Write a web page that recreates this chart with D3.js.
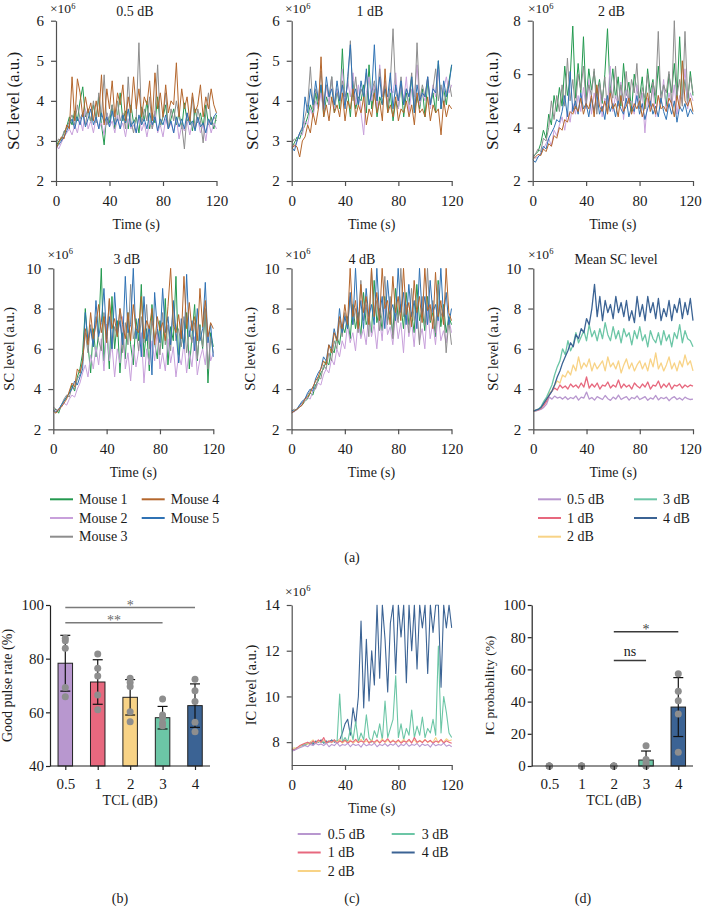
<!DOCTYPE html>
<html><head><meta charset="utf-8">
<script src="https://cdn.jsdelivr.net/npm/d3@7"></script>
<style>body{margin:0;background:#fff}svg{display:block}</style>
</head><body><svg id="c" width="703" height="907"></svg>
<script>
const FONT = '"Liberation Serif","DejaVu Serif",serif';

// ---------- categories / labels ----------
const timeSec = [0,2,4,6,8,10,12,14,16,18,20,22,24,26,28,30,32,34,36,38,40,42,44,46,48,50,52,54,56,58,60,62,64,66,68,70,72,74,76,78,80,82,84,86,88,90,92,94,96,98,100,102,104,106,108,110,112,114,116,118,120];
const timeTicks = [0,40,80,120];
const mouseNames = ["Mouse 1","Mouse 2","Mouse 3","Mouse 4","Mouse 5"];
const mouseColors = ["#23994f","#c8a0db","#8d8d8d","#b4662c","#2f72b4"];
const dbNames = ["0.5 dB","1 dB","2 dB","3 dB","4 dB"];
const dbColors = ["#b897cf","#e7687e","#f8d386","#6cc6a6","#3b6394"];
const tclLabels = ["0.5","1","2","3","4"];

// ---------- SC level, 0.5 dB (x10^6) ----------
const sc05_m1 = [2.85,3.00,3.05,3.20,3.35,3.60,3.40,3.75,3.50,4.00,
 4.35,3.60,3.80,3.45,3.90,3.55,4.10,3.40,2.90,3.70,
 3.45,3.90,3.30,3.60,4.20,3.50,3.75,3.30,3.90,3.45,
 3.60,3.20,3.85,3.50,4.00,3.30,3.70,3.45,4.10,3.35,
 3.60,3.90,3.30,3.55,3.80,3.40,3.70,3.30,3.95,3.50,
 3.60,3.25,3.80,3.45,3.70,3.35,3.90,3.40,3.60,3.30,
 3.65];
const sc05_m2 = [2.90,2.80,2.95,3.10,3.20,3.30,3.15,3.40,3.20,3.55,
 3.25,3.80,3.30,3.50,3.20,3.60,3.30,3.45,3.15,3.70,
 3.35,3.50,3.20,3.65,3.30,3.45,3.10,3.55,3.30,3.40,
 3.20,3.60,3.25,3.45,3.10,3.50,3.30,3.75,3.20,3.40,
 3.10,3.55,3.30,3.45,3.20,3.60,3.05,3.40,3.25,3.50,
 3.15,3.45,3.30,3.55,3.20,3.40,3.00,3.50,3.20,3.45,
 3.30];
const sc05_m3 = [2.95,3.05,3.00,3.25,3.30,3.50,3.65,3.40,3.90,3.55,
 3.70,3.40,3.80,3.50,4.00,3.45,4.20,3.60,4.65,3.40,
 3.60,3.90,3.40,4.00,3.50,3.70,3.30,4.60,3.50,3.20,
 3.60,5.45,3.40,3.80,3.50,4.10,3.30,3.70,4.90,3.40,
 3.60,4.20,3.30,3.80,3.50,4.00,3.60,3.40,2.80,3.70,
 3.40,4.10,3.30,3.80,3.50,2.95,3.70,4.20,3.40,3.60,
 3.50];
const sc05_m4 = [2.80,2.95,3.10,3.05,3.40,3.30,4.60,3.50,4.55,4.20,
 3.60,4.10,3.70,3.95,3.50,4.00,3.60,4.65,3.40,4.30,
 3.80,4.50,3.60,4.20,3.90,4.40,3.50,4.10,3.70,4.60,
 3.80,4.30,3.60,4.10,3.90,4.50,3.50,4.70,3.80,4.20,
 3.60,4.40,3.70,4.00,3.90,4.95,3.60,4.30,3.80,4.10,
 3.50,4.20,3.70,3.90,4.40,3.60,4.10,3.80,4.30,3.90,
 3.70];
const sc05_m5 = [2.85,2.90,3.00,3.10,3.25,3.40,3.55,3.30,3.60,3.40,
 3.70,3.35,3.55,3.80,3.40,3.60,3.30,3.70,3.45,3.60,
 3.35,3.75,3.40,3.55,3.30,3.65,3.45,3.80,3.35,3.50,
 3.20,3.65,3.40,3.55,3.30,3.70,3.40,3.60,3.25,3.55,
 3.40,3.65,3.30,3.50,3.20,3.60,3.35,3.55,3.30,3.70,
 3.40,3.50,3.25,3.60,3.35,3.45,3.20,3.55,3.40,3.60,
 3.70];

// ---------- SC level, 1 dB ----------
const sc1_m1 = [2.85,2.95,3.10,3.05,3.25,3.40,3.60,3.90,3.70,4.20,
 3.80,4.40,3.60,4.10,3.90,4.60,3.70,4.30,3.80,5.30,
 3.90,4.20,3.60,4.50,3.80,4.10,4.00,4.40,3.70,4.90,
 3.80,4.30,3.60,4.10,3.90,4.50,3.70,4.20,3.50,4.00,
 3.80,4.40,3.60,4.20,3.90,4.60,3.70,4.10,3.80,4.30,
 3.60,4.50,3.90,4.20,3.70,5.00,3.80,4.30,3.90,4.50,
 4.90];
const sc1_m2 = [2.90,2.85,3.00,3.20,3.15,3.50,3.40,3.80,3.60,4.00,
 3.80,4.20,3.70,4.40,3.90,4.60,3.80,4.30,4.00,4.80,
 3.90,4.50,4.10,4.70,3.90,4.40,3.70,3.15,4.20,4.60,
 4.00,4.40,3.80,4.90,4.10,4.50,3.90,4.30,4.20,4.70,
 3.80,4.40,4.00,4.60,3.70,4.30,4.10,4.90,3.90,4.20,
 4.00,4.60,3.80,4.40,4.10,4.80,3.90,4.30,4.60,4.20,
 4.40];
const sc1_m3 = [2.95,3.05,3.00,3.20,3.35,3.60,3.90,4.85,3.80,4.30,
 4.00,4.75,3.90,4.40,4.10,4.60,3.90,4.20,4.00,4.50,
 4.10,4.40,5.50,4.00,4.60,3.90,4.30,4.10,4.70,3.90,
 4.20,4.50,4.00,4.80,4.10,4.30,3.80,4.50,5.80,4.20,
 4.00,4.60,3.90,4.30,4.10,4.70,3.80,5.45,4.00,4.40,
 4.10,4.60,3.90,4.30,4.80,4.00,4.40,3.90,4.20,4.50,
 4.10];
const sc1_m4 = [2.80,2.90,2.85,2.60,3.00,3.10,3.40,3.20,3.70,3.40,
 3.80,5.10,3.60,3.90,3.50,4.10,3.70,3.90,3.60,4.20,
 3.50,4.00,3.80,4.30,3.60,3.90,3.70,4.10,3.40,3.80,
 3.60,4.20,3.70,4.00,3.50,4.80,3.70,3.90,3.60,4.10,
 3.50,3.80,3.70,4.00,3.60,3.90,3.40,4.20,3.70,3.80,
 3.60,4.10,3.50,3.90,3.70,3.80,3.15,4.00,3.60,3.90,
 3.80];
const sc1_m5 = [2.85,2.75,3.00,3.20,3.30,4.10,3.70,4.30,3.90,4.50,
 4.00,4.40,3.80,4.60,4.10,4.30,3.90,4.50,4.00,4.40,
 3.80,4.60,5.40,4.10,4.30,3.90,4.50,4.10,4.80,3.90,
 4.20,5.40,4.00,4.60,3.90,4.30,4.10,4.70,3.80,4.40,
 4.00,4.50,3.90,4.30,4.10,4.60,3.70,4.40,4.00,4.20,
 4.10,4.60,3.90,4.30,4.20,5.00,3.80,4.50,4.10,4.40,
 4.90];

// ---------- SC level, 2 dB ----------
const sc2_m1 = [2.85,3.00,3.10,3.40,3.90,3.60,4.50,4.10,5.20,4.60,
 5.50,4.80,6.30,5.20,5.80,7.80,5.10,6.40,5.30,7.40,
 5.00,6.20,5.40,6.10,5.20,5.80,4.90,6.00,7.70,5.30,
 6.20,5.10,5.90,4.80,6.40,5.20,5.70,4.60,6.00,5.40,
 5.10,5.90,4.70,6.20,5.30,5.80,4.90,6.30,5.20,5.60,
 4.80,6.00,5.30,6.40,5.10,7.40,5.20,5.80,4.90,6.10,
 5.20];
const sc2_m2 = [3.00,2.85,2.90,3.05,3.20,3.40,3.60,3.30,3.90,3.70,
 4.10,4.40,3.90,4.60,4.20,4.90,4.50,5.20,4.60,5.50,
 4.70,5.80,4.50,5.30,4.80,5.60,4.40,5.10,4.90,6.30,
 4.60,5.20,4.80,5.70,4.30,5.40,4.90,5.00,4.50,5.60,
 4.80,5.30,3.80,5.10,4.70,5.50,4.40,5.20,4.90,5.80,
 4.60,5.30,4.80,5.60,4.50,5.20,4.90,6.20,4.70,5.30,
 5.00];
const sc2_m3 = [2.90,3.00,3.20,3.10,3.60,3.50,4.00,5.00,4.30,5.20,
 4.60,5.60,4.80,6.60,5.00,5.80,4.70,6.00,5.40,6.30,
 4.90,5.60,5.20,6.20,4.50,5.70,5.00,5.90,4.60,5.50,
 5.10,6.30,4.80,5.60,5.00,6.10,4.90,5.80,5.30,6.40,
 4.70,5.50,5.10,6.00,4.80,5.70,5.20,7.60,4.90,5.60,
 5.30,6.10,4.90,8.00,5.20,5.80,4.80,7.60,5.10,5.90,
 5.30];
const sc2_m4 = [2.80,2.90,3.00,2.95,3.20,3.10,3.40,3.30,3.70,3.60,
 4.00,3.90,4.30,4.20,4.60,4.50,4.80,4.60,5.10,4.50,
 4.90,4.70,5.20,4.40,5.60,4.80,4.60,5.00,4.50,5.30,
 4.70,4.90,4.40,5.20,4.60,4.80,5.10,4.50,4.90,4.70,
 5.00,4.40,4.80,5.30,4.60,4.90,4.50,5.20,4.70,4.80,
 4.60,5.10,4.90,4.40,5.20,4.70,6.50,5.00,4.80,5.10,
 4.60];
const sc2_m5 = [2.80,2.70,2.90,3.00,3.30,3.20,3.60,3.80,4.00,4.30,
 4.20,4.60,5.20,4.40,6.10,4.60,5.00,4.50,5.30,4.70,
 4.90,4.40,5.10,4.60,5.30,4.50,4.80,4.30,5.20,4.60,
 4.90,4.40,5.00,4.70,4.50,5.10,4.40,4.80,4.60,5.20,
 4.50,4.90,4.30,4.70,5.00,4.50,4.80,4.40,5.10,4.60,
 4.30,4.90,4.50,5.00,4.20,4.80,4.60,4.90,4.40,4.70,
 4.50];

// ---------- SC level, 3 dB ----------
const sc3_m1 = [2.90,3.00,2.80,3.20,3.40,3.60,3.80,4.20,3.90,4.60,
 5.00,5.80,8.00,6.20,4.80,7.00,5.60,6.80,10.00,5.40,
 7.20,5.00,8.60,6.00,7.40,4.80,6.80,5.50,7.80,6.20,
 5.20,7.50,6.40,9.20,5.60,7.00,4.90,8.20,6.30,5.50,
 7.40,6.00,8.50,5.20,7.10,6.40,9.60,5.30,6.90,6.10,
 7.80,5.00,6.60,8.20,5.40,7.20,6.00,7.90,4.30,6.80,
 6.10];
const sc3_m2 = [3.00,2.90,3.00,3.10,3.30,3.20,3.50,3.70,3.60,4.00,
 4.30,4.80,5.20,4.60,5.70,5.00,6.10,5.20,6.50,4.90,
 7.20,5.40,6.20,4.60,6.00,5.30,7.60,5.00,5.80,4.40,
 6.20,5.10,5.90,6.80,4.30,6.00,5.20,6.40,5.40,7.00,
 5.00,5.80,4.90,6.50,5.30,6.10,4.60,5.70,5.20,6.30,
 4.80,5.90,5.10,6.60,4.70,5.50,6.00,5.20,6.80,5.40,
 5.80];
const sc3_m3 = [3.10,3.00,2.90,3.20,3.50,3.70,3.60,4.10,4.00,4.50,
 4.70,5.40,6.80,5.80,7.20,6.10,7.60,6.40,5.90,7.80,
 6.50,8.40,6.00,7.10,6.60,8.00,5.80,7.30,6.20,9.20,
 6.50,7.00,5.90,7.60,6.30,8.20,6.00,7.40,6.50,6.90,
 5.70,7.80,6.20,7.20,5.90,8.30,6.40,7.00,6.10,7.60,
 5.80,6.90,6.30,7.30,5.50,7.10,6.10,8.00,5.00,6.60,
 5.80];
const sc3_m4 = [2.90,2.80,3.00,3.10,3.30,3.50,3.90,4.30,4.10,5.00,
 4.80,5.40,7.00,6.20,7.80,6.50,7.20,8.20,6.80,7.60,
 6.30,8.50,7.00,7.50,6.60,8.00,7.20,6.50,7.80,6.40,
 8.20,7.00,6.80,8.60,6.50,7.40,7.00,8.00,6.20,7.60,
 6.90,7.30,6.40,8.10,10.00,7.20,6.80,7.70,6.50,9.60,
 7.00,8.30,6.90,7.60,6.40,9.00,7.10,8.40,6.60,7.30,
 7.00];
const sc3_m5 = [2.95,2.85,3.00,3.20,3.40,3.60,3.80,4.00,4.40,4.20,
 4.60,5.00,7.80,6.40,7.00,6.10,8.40,6.60,7.30,9.00,
 6.50,7.60,6.00,8.80,6.70,7.40,6.20,9.60,6.80,7.20,
 10.00,6.50,7.50,5.60,8.60,6.40,7.10,4.70,8.80,7.00,
 6.30,9.00,6.80,7.60,6.20,8.40,6.90,5.30,7.50,6.00,
 9.70,6.60,7.40,5.90,8.00,6.40,7.00,9.30,6.30,7.20,
 5.60];

// ---------- SC level, 4 dB ----------
const sc4_m1 = [2.85,2.90,3.00,3.10,3.20,3.40,3.50,3.80,3.70,4.20,
 4.40,4.80,5.00,5.40,5.20,6.00,5.80,6.60,6.20,7.20,
 6.80,7.60,6.50,8.20,7.00,7.80,6.60,8.80,7.20,7.60,
 6.80,9.40,7.30,8.00,6.90,8.60,7.40,7.90,6.70,9.00,
 7.50,8.20,7.00,8.80,7.20,7.80,6.80,9.20,7.40,8.00,
 6.90,8.60,7.30,7.80,6.60,9.40,7.10,8.20,6.80,7.60,
 7.20];
const sc4_m2 = [2.90,2.85,3.00,3.10,3.30,3.40,3.60,3.50,3.90,4.00,
 4.30,4.20,4.70,5.00,4.80,5.50,5.20,6.00,5.60,6.40,
 6.00,7.20,6.30,6.80,5.90,7.40,6.50,7.00,6.20,7.80,
 6.60,7.20,6.00,7.60,6.40,8.40,6.70,7.10,6.20,7.70,
 6.50,7.30,5.80,8.00,6.60,7.40,6.10,7.90,6.40,7.00,
 6.00,8.20,6.50,7.30,6.20,7.80,6.40,6.90,6.30,7.50,
 6.80];
const sc4_m3 = [2.90,3.00,2.95,3.20,3.30,3.50,3.70,3.90,4.10,4.00,
 4.60,4.50,5.20,5.00,5.80,5.40,6.40,6.00,7.40,6.60,
 7.80,7.00,8.60,7.20,8.00,6.80,9.40,7.40,8.20,6.60,
 10.00,7.50,8.40,6.90,7.80,9.60,7.20,8.60,6.50,8.00,
 7.30,10.00,7.60,8.20,6.80,9.00,7.40,7.90,6.20,8.60,
 7.20,10.00,7.40,8.40,6.80,9.20,7.60,8.00,5.80,7.40,
 6.20];
const sc4_m4 = [2.80,2.90,3.00,3.10,3.20,3.50,3.60,3.80,4.10,4.40,
 4.60,5.00,5.40,5.20,6.20,5.80,6.80,6.40,7.60,7.00,
 8.20,7.20,10.00,7.60,8.40,7.00,9.20,7.80,8.60,7.20,
 10.00,7.60,8.80,7.40,10.00,8.00,8.40,7.20,9.60,7.80,
 8.60,7.40,10.00,7.70,8.30,7.10,9.40,7.80,8.60,7.30,
 10.00,7.90,8.20,7.00,9.80,7.60,8.40,7.20,10.00,7.80,
 7.40];
const sc4_m5 = [2.95,2.90,3.00,3.20,3.40,3.50,3.80,4.00,3.90,4.50,
 4.80,5.00,5.60,5.40,6.20,6.00,7.00,6.40,8.00,6.80,
 7.60,7.00,8.80,7.20,10.00,7.40,8.40,7.00,9.00,7.60,
 8.20,7.20,10.00,7.60,8.60,7.00,9.40,7.80,8.20,7.40,
 10.00,7.80,8.80,7.20,9.20,7.60,8.40,7.00,10.00,7.70,
 8.60,7.20,9.40,7.80,8.20,7.40,10.00,7.60,8.80,7.20,
 8.00];

// ---------- Mean SC level ----------
const mean_05 = [2.90,2.92,2.95,3.00,3.10,3.25,3.60,3.50,3.65,3.55,
 3.60,3.50,3.62,3.48,3.58,3.52,3.66,3.45,3.60,3.55,
 3.85,3.50,3.58,3.45,3.62,3.55,3.48,3.68,3.52,3.44,
 3.60,3.50,3.70,3.48,3.56,3.62,3.45,3.58,3.52,3.66,
 3.48,3.55,3.62,3.44,3.56,3.50,3.68,3.46,3.58,3.52,
 3.60,3.42,3.55,3.62,3.48,3.56,3.45,3.60,3.52,3.48,
 3.50];
const mean_1 = [2.90,2.93,2.98,3.05,3.20,3.40,3.70,3.90,4.05,3.95,
 4.20,4.05,4.15,4.00,4.25,4.10,4.20,4.05,4.30,4.10,
 4.60,4.05,4.25,4.10,4.30,4.00,4.20,4.15,4.35,4.05,
 4.20,4.10,4.45,4.05,4.25,4.10,4.20,4.00,4.30,4.15,
 4.05,4.25,4.10,4.35,4.00,4.20,4.15,4.40,4.05,4.25,
 4.10,4.30,4.00,4.20,4.15,4.25,4.05,4.20,4.10,4.20,
 4.15];
const mean_2 = [2.90,2.95,3.00,3.10,3.30,3.50,3.80,3.90,4.20,4.40,
 4.30,4.70,4.60,4.90,4.70,5.20,4.90,5.60,5.00,5.30,
 5.10,5.50,4.90,5.30,5.00,5.20,5.40,4.90,5.60,5.10,
 5.30,5.00,5.40,4.80,5.20,5.50,5.00,5.30,4.90,5.20,
 5.40,5.00,5.30,4.90,5.50,5.10,5.80,5.00,5.30,4.90,
 5.20,5.60,5.00,5.30,4.90,5.40,5.10,5.70,5.20,5.40,
 4.90];
const mean_3 = [2.90,2.95,3.00,3.15,3.40,3.60,3.90,4.20,4.70,5.10,
 5.40,6.00,5.70,6.40,5.90,6.20,6.80,6.30,6.60,6.90,
 6.40,7.20,6.60,6.90,6.40,7.00,6.50,7.30,6.70,6.40,
 7.10,6.50,6.90,6.30,7.00,6.60,6.80,6.20,6.90,6.50,
 7.10,6.40,6.70,6.10,6.90,6.50,6.30,6.80,6.20,6.90,
 6.40,6.70,6.10,6.80,6.50,7.20,6.30,6.90,6.50,6.40,
 6.10];
const mean_4 = [2.90,2.95,3.00,3.10,3.30,3.50,3.70,3.90,4.20,4.60,
 4.90,5.30,5.60,5.90,6.30,6.10,6.70,6.50,7.00,6.80,
 7.50,7.20,8.00,9.20,7.60,8.60,7.40,8.40,7.80,8.20,
 7.50,8.60,7.80,8.30,7.60,8.40,7.40,7.90,7.30,8.60,
 7.60,8.20,7.40,8.60,7.80,8.30,7.50,8.50,7.40,8.00,
 7.60,8.40,7.40,8.20,7.80,8.50,7.50,8.30,7.70,8.50,
 7.40];

// ---------- IC level ----------
const ic_05 = [7.60,7.65,7.70,7.75,7.80,7.85,7.80,7.90,7.85,7.95,
 7.88,7.92,7.85,7.95,7.80,7.90,7.85,7.98,7.82,7.90,
 7.86,7.95,7.80,7.92,7.85,7.90,7.78,7.95,7.84,7.90,
 7.86,7.96,7.80,7.90,7.85,7.94,7.82,7.92,7.86,7.95,
 7.80,7.90,7.85,7.96,7.82,7.90,7.86,7.94,7.80,7.92,
 7.85,7.90,7.78,7.95,7.84,7.90,7.86,7.96,7.82,7.88,
 7.80];
const ic_1 = [7.70,7.65,7.75,7.85,7.90,7.95,8.00,7.90,8.05,7.95,
 8.10,8.00,8.20,7.95,8.05,8.00,8.10,7.95,8.05,8.00,
 8.10,7.95,8.05,8.00,8.12,7.98,8.05,8.00,8.15,7.95,
 8.05,8.00,8.10,7.96,8.08,8.02,8.15,7.98,8.06,8.00,
 8.10,7.95,8.05,8.00,8.12,7.96,8.20,8.00,8.06,7.98,
 8.10,8.00,8.08,7.95,8.05,8.00,8.12,7.96,8.06,8.00,
 7.95];
const ic_2 = [7.70,7.75,7.72,7.80,7.90,7.95,7.90,8.00,8.10,7.95,
 8.05,8.00,8.10,7.95,8.05,7.98,8.08,8.00,8.12,7.96,
 8.05,8.00,8.10,7.95,8.06,8.00,8.12,7.98,8.05,8.00,
 8.10,7.95,8.06,8.00,8.15,7.98,8.08,8.00,8.10,7.96,
 8.05,8.00,8.12,7.98,8.06,8.00,8.10,7.95,8.08,8.00,
 8.12,7.98,8.05,8.00,8.20,7.96,8.08,8.00,8.15,8.05,
 8.10];
const ic_3 = [7.65,7.70,7.75,7.80,7.85,7.90,7.95,7.90,8.00,7.95,
 8.05,7.98,8.02,7.95,8.05,8.00,8.10,8.00,10.10,8.00,
 8.20,8.00,8.60,8.10,8.90,8.00,8.40,8.10,9.20,8.20,
 8.00,8.50,8.20,8.80,8.10,9.80,8.20,8.60,9.00,10.90,
 8.20,8.80,8.10,8.60,8.30,9.40,8.20,8.70,8.30,9.10,
 8.20,8.60,8.40,9.00,8.30,12.20,8.40,10.00,9.30,8.40,
 8.20];
const ic_4 = [7.70,7.65,7.75,7.80,7.90,7.85,7.95,8.00,7.90,8.05,
 8.00,8.10,7.95,8.05,8.00,8.10,8.00,8.05,8.10,8.40,
 8.80,9.00,8.30,9.50,8.80,10.00,13.30,9.50,12.50,9.80,
 12.00,10.50,14.00,10.80,14.00,12.50,10.20,13.20,14.00,11.00,
 14.00,12.60,14.00,10.60,14.00,12.00,14.00,11.20,14.00,13.00,
 14.00,11.00,14.00,12.80,14.00,14.00,10.40,14.00,13.00,14.00,
 13.00];

// ---------- (b) Good pulse rate ----------
const pulseMean = [78.3,71.3,65.6,58.0,62.5];
const pulseSD = [10.4,8.3,6.6,4.2,8.1];
const pulseDots = [[87.6,86.7,83.9,69.3,65.8],[81.7,76.4,73.5,66.5,61.0],[72.7,71.1,69.6,60.2,56.5],[65.0,59.0,57.9,56.0,55.0],[72.3,68.0,64.0,56.3,52.8]];
const pulseSig = [{a:"0.5",b:"4",level:99.1,label:"*"},{a:"0.5",b:"3",level:93.4,label:"**"}];

// ---------- (d) IC probability ----------
const icpMean = [0,0,0,3.7,36.6];
const icpSD = [0,0,0,5.6,18.3];
const icpDots = [[0,0,0,0,0],[0,0,0,0,0],[0,0,0,0,0],[12.6,4.0,2.0,0,0],[57.3,46.4,40.6,32.3,8.5]];
const icpSig = [{a:"2",b:"4",level:83.4,label:"*"},{a:"2",b:"3",level:65.6,label:"ns"}];

// ===================== drawing =====================
const svg = d3.select("#c");
const defs = svg.append("defs");
let clipN = 0;

function styleAxis(a, col, fs) {
  a.attr("font-family", FONT).attr("font-size", fs || 15);
  a.selectAll("path,line").attr("stroke", col).attr("stroke-width", 1.2);
  a.selectAll("text").attr("fill", "#1a1a1a");
}
function sci(x, y) {
  const t = svg.append("text").attr("x", x).attr("y", y).attr("font-family", FONT)
    .attr("font-size", 13.5).attr("fill", "#222").text("×10");
  t.append("tspan").attr("dy", -4.5).attr("font-size", 8.5).text("6");
}
function ylabel(txt, x, y, fs) {
  svg.append("text").attr("transform", `translate(${x},${y}) rotate(-90)`)
    .attr("text-anchor", "middle").attr("dominant-baseline", "central")
    .attr("font-family", FONT).attr("font-size", fs || 14).attr("fill", "#1a1a1a").text(txt);
}
function ctext(txt, x, y, size, fill) {
  return svg.append("text").attr("x", x).attr("y", y).attr("text-anchor", "middle")
    .attr("font-family", FONT).attr("font-size", size || 14).attr("fill", fill || "#1a1a1a").text(txt);
}

function linePanel(c) {
  const x = d3.scaleLinear().domain([0, 120]).range([c.x0, c.x1]);
  const y = d3.scaleLinear().domain(c.dom).range([c.yBot, c.yTop]);
  const id = "clip" + (clipN++);
  defs.append("clipPath").attr("id", id).append("rect")
    .attr("x", c.x0).attr("y", c.yTop - 0.6).attr("width", c.x1 - c.x0 + 1).attr("height", c.yBot - c.yTop + 0.6);
  const line = d3.line().x((d, i) => x(timeSec[i])).y(d => y(d));
  const lg = svg.append("g").attr("clip-path", `url(#${id})`);
  c.series.forEach(s => {
    lg.append("path").attr("d", line(s.v.slice(0, timeSec.length))).attr("fill", "none")
      .attr("stroke", s.col).attr("stroke-width", c.lw || 1).attr("stroke-linejoin", "round");
  });
  const ya = svg.append("g").attr("transform", `translate(${c.x0},0)`)
    .call(d3.axisLeft(y).tickValues(c.ticks).tickSize(5).tickSizeOuter(0).tickPadding(c.ypad || 7).tickFormat(d3.format("d")));
  const xa = svg.append("g").attr("transform", `translate(0,${c.yBot})`)
    .call(d3.axisBottom(x).tickValues(timeTicks).tickSize(5).tickSizeOuter(0).tickPadding(9).tickFormat(d3.format("d")));
  styleAxis(ya, "#505050"); styleAxis(xa, "#505050");
  if (c.shiftLast) xa.selectAll(".tick text").filter(d => d === 120).attr("dx", c.shiftLast);
  sci(c.sciX, Math.max(13, c.yTop - 9.5));
  if (c.title) ctext(c.title, c.titleX, c.yTop - 4.5);
  ylabel(c.ylab, c.ylabX, (c.yTop + c.yBot) / 2, c.ylabFs);
  ctext("Time (s)", (c.x0 + c.x1) / 2, c.yBot + 47.5);
}

function barPanel(c) {
  const x = d3.scalePoint().domain(tclLabels).range([c.c0, c.c1]);
  const y = d3.scaleLinear().domain(c.dom).range([c.yBot, c.yTop]);
  const bw = 14.5;
  const g = svg.append("g");
  c.means.forEach((m, i) => {
    if (m <= 0) return;
    g.append("rect").attr("x", x(tclLabels[i]) - bw / 2).attr("y", y(m))
      .attr("width", bw).attr("height", y(c.dom[0]) - y(m))
      .attr("fill", dbColors[i]).attr("stroke", "#222").attr("stroke-width", 1);
  });
  c.means.forEach((m, i) => {
    const sd = c.sd[i]; if (!sd) return;
    const cx = x(tclLabels[i]);
    const hi = m + sd, lo = Math.max(c.dom[0], m - sd);
    g.append("line").attr("x1", cx).attr("x2", cx).attr("y1", y(hi)).attr("y2", y(lo)).attr("stroke", "#111").attr("stroke-width", 1.2);
    g.append("line").attr("x1", cx - 5).attr("x2", cx + 5).attr("y1", y(hi)).attr("y2", y(hi)).attr("stroke", "#111").attr("stroke-width", 1.2);
    if (m - sd > c.dom[0]) g.append("line").attr("x1", cx - 5).attr("x2", cx + 5).attr("y1", y(lo)).attr("y2", y(lo)).attr("stroke", "#111").attr("stroke-width", 1.2);
  });
  c.dots.forEach((arr, i) => {
    arr.forEach(v => {
      g.append("circle").attr("cx", x(tclLabels[i])).attr("cy", y(v)).attr("r", 3.5).attr("fill", "#8e8e8e");
    });
  });
  const ya = svg.append("g").attr("transform", `translate(${c.x0},0)`)
    .call(d3.axisLeft(y).tickValues(c.ticks).tickSize(4).tickSizeOuter(0).tickPadding(2).tickFormat(d3.format("d")));
  const xa = svg.append("g").attr("transform", `translate(0,${c.yBot})`)
    .call(d3.axisBottom(x).tickSize(4).tickSizeOuter(0).tickPadding(8));
  xa.select("path.domain").attr("d", `M${c.x0},0H${c.x1}`);
  styleAxis(ya, "#222", 15); styleAxis(xa, "#222", 15);
  c.sig.forEach(s => {
    const yy = y(s.level);
    svg.append("line").attr("x1", x(s.a)).attr("x2", x(s.b)).attr("y1", yy).attr("y2", yy)
      .attr("stroke", c.sigCol).attr("stroke-width", 1.5);
    const isStar = s.label.indexOf("*") >= 0;
    ctext(s.label, (x(s.a) + x(s.b)) / 2, isStar ? yy + 2.5 : yy - 4, 14, isStar ? c.starCol : "#1a1a1a");
  });
  ylabel(c.ylab, c.ylabX, (c.yTop + c.yBot) / 2, c.ylabFs);
  ctext("TCL (dB)", (c.c0 + c.c1) / 2, c.yBot + 39);
}

function legend(items, colX, y0, step, lineLen, textOff) {
  items.forEach((it, i) => {
    const col = i < 3 ? 0 : 1, row = i < 3 ? i : i - 3;
    const lx = colX[col], ly = y0 + row * step;
    svg.append("line").attr("x1", lx).attr("x2", lx + lineLen).attr("y1", ly).attr("y2", ly)
      .attr("stroke", it.col).attr("stroke-width", 2);
    svg.append("text").attr("x", lx + textOff).attr("y", ly).attr("dominant-baseline", "central")
      .attr("font-family", FONT).attr("font-size", 14).attr("fill", "#1a1a1a").text(it.name);
  });
}

const mOrder = [0, 1, 2, 4, 3];
function mice(arrs) { return mOrder.map(k => ({ v: arrs[k], col: mouseColors[k] })); }

linePanel({x0:56, x1:216.5, yTop:20.7, yBot:181, dom:[2,6], ticks:[2,3,4,5,6], series:mice([sc05_m1,sc05_m2,sc05_m3,sc05_m4,sc05_m5]),
  title:"0.5 dB", titleX:135, sciX:50, ylab:"SC level (a.u.)", ylabX:13, ylabFs:17});
linePanel({x0:291.7, x1:451.7, yTop:20.7, yBot:181, dom:[2,6], ticks:[2,3,4,5,6], series:mice([sc1_m1,sc1_m2,sc1_m3,sc1_m4,sc1_m5]),
  title:"1 dB", titleX:370, sciX:285, ylab:"SC level (a.u.)", ylabX:252.5, ylabFs:17});
linePanel({x0:532.7, x1:693, yTop:20.7, yBot:181, dom:[2,8], ticks:[2,4,6,8], series:mice([sc2_m1,sc2_m2,sc2_m3,sc2_m4,sc2_m5]),
  title:"2 dB", titleX:611.5, sciX:528, ylab:"SC level (a.u.)", ylabX:492.5, ylabFs:17, shiftLast:-3});
linePanel({x0:53.3, x1:213.3, yTop:268.3, yBot:429.3, dom:[2,10], ticks:[2,4,6,8,10], series:mice([sc3_m1,sc3_m2,sc3_m3,sc3_m4,sc3_m5]),
  title:"3 dB", titleX:127, sciX:47.5, ylab:"SC level (a.u.)", ylabX:9, ylabFs:14.5});
linePanel({x0:291.5, x1:451.5, yTop:268.3, yBot:429.3, dom:[2,10], ticks:[2,4,6,8,10], series:mice([sc4_m1,sc4_m2,sc4_m3,sc4_m4,sc4_m5]),
  title:"4 dB", titleX:362, sciX:285, ylab:"SC level (a.u.)", ylabX:250, ylabFs:14.5});
linePanel({x0:533.3, x1:693, yTop:268.3, yBot:429.3, dom:[2,10], ticks:[2,4,6,8,10], lw:1.3,
  series:[mean_05,mean_1,mean_2,mean_3,mean_4].map((v,i)=>({v, col:dbColors[i]})),
  title:"Mean SC level", titleX:616, sciX:528, ylab:"SC level (a.u.)", ylabX:492.5, ylabFs:14.5, shiftLast:-3});

legend(mouseNames.map((n,i)=>({name:n, col:mouseColors[i]})), [50, 141.7], 499.3, 18.7, 23, 29);
legend(dbNames.map((n,i)=>({name:n, col:dbColors[i]})), [538, 634], 499.3, 18.7, 23, 29);
ctext("(a)", 352, 562);

barPanel({x0:50, x1:210, c0:65.3, c1:195, yTop:605, yBot:766, dom:[40,100], ticks:[40,60,80,100],
  means:pulseMean, sd:pulseSD, dots:pulseDots, sig:pulseSig, sigCol:"#7a7a7a", starCol:"#6a6a6a",
  ylab:"Good pulse rate (%)", ylabX:7, ylabFs:14});

linePanel({x0:291.7, x1:451.7, yTop:605, yBot:765, dom:[7,14], ticks:[8,10,12,14], lw:1.1,
  series:[ic_4,ic_3,ic_2,ic_1,ic_05].map((v,j)=>({v, col:dbColors[4-j]})),
  title:null, sciX:285, ylab:"IC level (a.u.)", ylabX:251, ylabFs:14.5});
legend(dbNames.map((n,i)=>({name:n, col:dbColors[i]})), [297.7, 391.7], 834, 18.5, 23, 30);

barPanel({x0:531.7, x1:693, c0:549.3, c1:678.3, yTop:605, yBot:766, dom:[0,100], ticks:[0,20,40,60,80,100],
  means:icpMean, sd:icpSD, dots:icpDots, sig:icpSig, sigCol:"#3a3a3a", starCol:"#444",
  ylab:"IC probability (%)", ylabX:489, ylabFs:13.5});

ctext("(b)", 120, 903);
ctext("(c)", 352, 903);
ctext("(d)", 583, 903);
</script></body></html>
